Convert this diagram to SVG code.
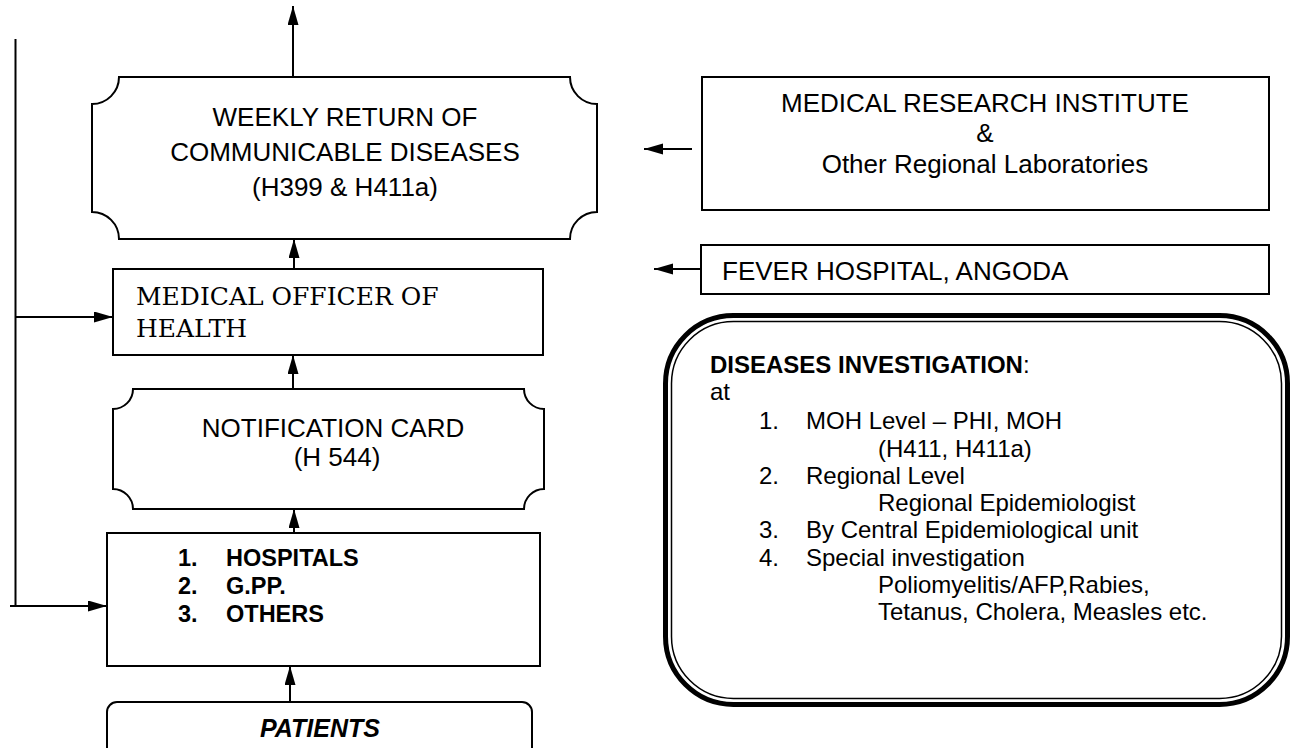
<svg xmlns="http://www.w3.org/2000/svg" width="1295" height="748" viewBox="0 0 1295 748">
<defs>
<marker id="ah" markerUnits="userSpaceOnUse" markerWidth="20" markerHeight="12" refX="19" refY="5.5" orient="auto">
<path d="M0,0 L19,5.5 L0,11 Z" fill="#000"/>
</marker>
<style>
.box{fill:#fff;stroke:#000;stroke-width:2}
.con{fill:none;stroke:#000;stroke-width:2}
.arr{marker-end:url(#ah)}
.sans{font-family:"Liberation Sans",Arial,sans-serif;fill:#000}
.serif{font-family:"DejaVu Serif","Liberation Serif",serif;fill:#000}
.t26{font-size:26px}
.t24{font-size:24px}
.mid{text-anchor:middle}
</style>
</defs>
<rect width="1295" height="748" fill="#fff"/>

<g id="connectors">
<line class="con arr" x1="293" y1="77" x2="293" y2="6"/>
<line class="con arr" x1="294" y1="269" x2="294" y2="239"/>
<line class="con arr" x1="293" y1="389" x2="293" y2="355"/>
<line class="con arr" x1="294" y1="533" x2="294" y2="509"/>
<line class="con arr" x1="290" y1="702" x2="290" y2="666"/>
<line class="con" x1="15.5" y1="39" x2="15.5" y2="606"/>
<line class="con arr" x1="15.5" y1="317" x2="113" y2="317"/>
<line class="con arr" x1="10" y1="606" x2="107" y2="606"/>
<line class="con arr" x1="692" y1="149" x2="644" y2="149"/>
<line class="con arr" x1="701" y1="269" x2="654" y2="269"/>
</g>

<g id="weekly">
<path class="box" d="M119,77 H570 A27,27 0 0 0 597,104 V212 A27,27 0 0 0 570,239 H119 A27,27 0 0 0 92,212 V104 A27,27 0 0 0 119,77 Z"/>
<text class="sans t26 mid" x="345" y="126">WEEKLY RETURN OF</text>
<text class="sans t26 mid" x="345" y="161">COMMUNICABLE DISEASES</text>
<text class="sans t26 mid" x="345" y="196">(H399 &amp; H411a)</text>
</g>

<g id="moh">
<rect class="box" x="113" y="269" width="430" height="86"/>
<text class="serif" font-size="25" x="136" y="305">MEDICAL OFFICER OF</text>
<text class="serif" font-size="25" x="136" y="337">HEALTH</text>
</g>

<g id="notification">
<path class="box" d="M133,389 H524 A20,20 0 0 0 544,409 V489 A20,20 0 0 0 524,509 H133 A20,20 0 0 0 113,489 V409 A20,20 0 0 0 133,389 Z"/>
<text class="sans t26 mid" x="333" y="437">NOTIFICATION CARD</text>
<text class="sans t26 mid" x="337" y="466">(H 544)</text>
</g>

<g id="hospitals">
<rect class="box" x="107" y="533" width="433" height="133"/>
<g class="sans" font-size="23.5" font-weight="bold">
<text x="178" y="566">1.</text><text x="226" y="566">HOSPITALS</text>
<text x="178" y="594">2.</text><text x="226" y="594">G.PP.</text>
<text x="178" y="622">3.</text><text x="226" y="622">OTHERS</text>
</g>
</g>

<g id="patients">
<rect class="box" x="107" y="702" width="425" height="70" rx="10"/>
<text class="sans mid" font-size="25" font-weight="bold" font-style="italic" x="320" y="737">PATIENTS</text>
</g>

<g id="mri">
<rect class="box" x="702" y="77" width="567" height="133"/>
<text class="sans t26 mid" x="985" y="112">MEDICAL RESEARCH INSTITUTE</text>
<text class="sans t26 mid" x="985" y="142">&amp;</text>
<text class="sans t26 mid" x="985" y="173">Other Regional Laboratories</text>
</g>

<g id="fever">
<rect class="box" x="701" y="245" width="568" height="49"/>
<text class="sans t26" x="722" y="280">FEVER HOSPITAL, ANGODA</text>
</g>

<g id="investigation">
<rect x="665.5" y="315.5" width="622" height="389" rx="68" fill="#fff" stroke="#000" stroke-width="5"/>
<rect x="671.5" y="321.5" width="610" height="377" rx="62" fill="none" stroke="#000" stroke-width="1.5"/>
<g class="sans t24">
<text x="710" y="373"><tspan font-weight="bold">DISEASES INVESTIGATION</tspan>:</text>
<text x="710" y="400">at</text>
<text x="759" y="429">1.</text><text x="806" y="429">MOH Level – PHI, MOH</text>
<text x="878" y="457">(H411, H411a)</text>
<text x="759" y="484">2.</text><text x="806" y="484">Regional Level</text>
<text x="878" y="511">Regional Epidemiologist</text>
<text x="759" y="538">3.</text><text x="806" y="538">By Central Epidemiological unit</text>
<text x="759" y="566">4.</text><text x="806" y="566">Special investigation</text>
<text x="878" y="593">Poliomyelitis/AFP,Rabies,</text>
<text x="878" y="620">Tetanus, Cholera, Measles etc.</text>
</g>
</g>
</svg>
